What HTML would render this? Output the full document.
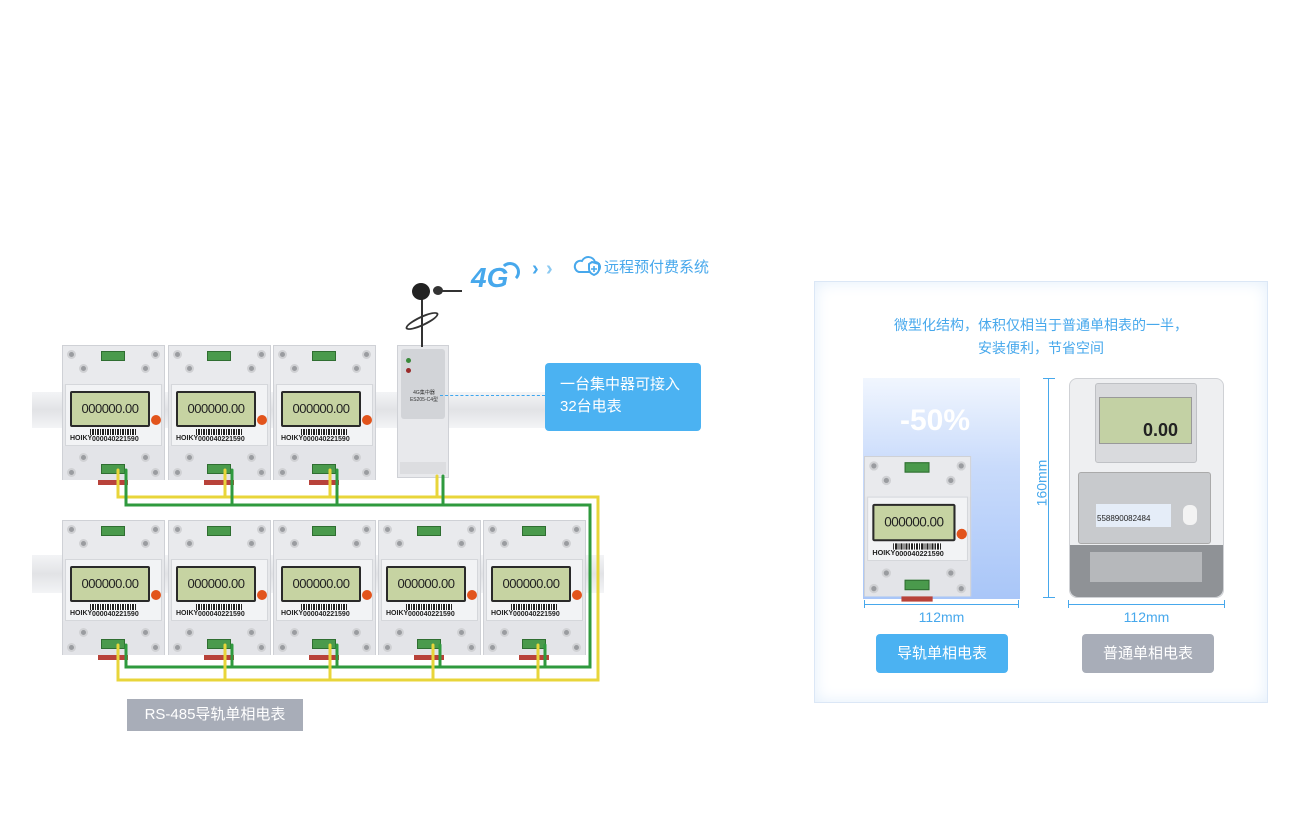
<!DOCTYPE html>
<html><head><meta charset="utf-8"><style>
*{margin:0;padding:0;box-sizing:border-box}
body{width:1300px;height:825px;background:#fff;position:relative;overflow:hidden;font-family:"Liberation Sans","Noto Sans CJK SC",sans-serif}
.a{position:absolute}
.m{position:absolute;width:103px;height:135px;background:#e6e7ea;border:1px solid #cfd1d6;transform-origin:0 0}
.m .top{position:absolute;left:0;top:0;width:101px;height:38px;background:#e9eaed}
.m .mid{position:absolute;left:2px;top:38px;width:97px;height:62px;background:#f2f3f5;border:1px solid #d5d7db}
.m .bot{position:absolute;left:0;top:100px;width:101px;height:34px;background:#e3e4e8}
.m .lcd{position:absolute;left:4px;top:6px;width:80px;height:36px;background:#c6d3a2;border:2px solid #2a2a2a;border-radius:2px;font:13px "Liberation Sans",sans-serif;color:#222;text-align:center;line-height:32px;letter-spacing:-0.5px}
.m .tb{position:absolute;width:24px;height:10px;background:#4a9a4c;border:1px solid #2f6e31}
.m .sc{position:absolute;width:9px;height:9px;border-radius:50%;background:#9a9ca0;border:2px solid #d0d1d4}
.m .bar{position:absolute;left:24px;top:44px;width:46px;height:6px;background:repeating-linear-gradient(90deg,#222 0 1px,#fff 1px 2px,#222 2px 4px,#fff 4px 5px)}
.m .num{position:absolute;left:26px;top:51px;font:bold 7px "Liberation Sans",sans-serif;color:#222}
.m .brand{position:absolute;left:4px;top:50px;font:bold 7px "Liberation Sans",sans-serif;color:#222}
.m .btn{position:absolute;left:85px;top:30px;width:10px;height:10px;border-radius:50%;background:#e2541c}
.m .red{position:absolute;left:35px;top:134px;width:30px;height:5px;background:#b8423a}
</style></head><body>

<div class="a" style="left:32px;top:392px;width:570px;height:36px;background:linear-gradient(#f3f4f6,#e2e3e6,#f3f4f6)"></div>
<div class="a" style="left:32px;top:555px;width:572px;height:38px;background:linear-gradient(#f3f4f6,#e2e3e6,#f3f4f6)"></div>

<div id="meters"></div>

<div class="a" style="left:397px;top:345px;width:52px;height:133px;background:#e8e9ec;border:1px solid #cfd1d6"></div>
<div class="a" style="left:401px;top:349px;width:44px;height:70px;background:#d2d4d8;border-radius:3px"></div>
<div class="a" style="left:406px;top:358px;width:5px;height:5px;border-radius:50%;background:#3a8a3a"></div>
<div class="a" style="left:406px;top:368px;width:5px;height:5px;border-radius:50%;background:#9a2a2a"></div>
<div class="a" style="left:407px;top:390px;font-size:5px;color:#333;width:34px;text-align:center;line-height:7px">4G集中器<br>ES205-C4型</div>
<div class="a" style="left:400px;top:462px;width:46px;height:12px;background:#dcdde0"></div>
<div class="a" style="left:421px;top:292px;width:2px;height:55px;background:#333"></div>
<div class="a" style="left:412px;top:283px;width:18px;height:17px;border-radius:50%;background:#222"></div>
<div class="a" style="left:433px;top:286px;width:10px;height:9px;border-radius:50%;background:#333"></div>
<div class="a" style="left:442px;top:290px;width:20px;height:2px;background:#333"></div>
<div class="a" style="left:404px;top:316px;width:36px;height:10px;border:2px solid #333;border-radius:50%;transform:rotate(-25deg)"></div>
<div class="a" style="left:471px;top:262px;font:italic bold 28px 'Liberation Sans',sans-serif;color:#47a8ec">4G</div>
<div class="a" style="left:500px;top:262px;width:20px;height:20px;border:3px solid #47a8ec;border-left-color:transparent;border-bottom-color:transparent;border-radius:50%"></div>
<div class="a" style="left:532px;top:258px;font:bold 20px 'Liberation Sans',sans-serif;color:#47a8ec">›</div>
<div class="a" style="left:546px;top:258px;font:bold 20px 'Liberation Sans',sans-serif;color:#8ccaf2">›</div>
<svg class="a" style="left:573px;top:254px" width="30" height="22"><path d="M6 18 H22 A5 5 0 0 0 22 8 A7 7 0 0 0 9 7 A5 5 0 0 0 6 18Z" fill="none" stroke="#47a8ec" stroke-width="2"/><path d="M19 8 L26 10 V15 Q26 19 21 21 Q16 19 16 15 V10Z" fill="#fff" stroke="#47a8ec" stroke-width="2"/><path d="M21 12V18M18 15H24" stroke="#47a8ec" stroke-width="1.6"/></svg>
<div class="a" style="left:604px;top:256px;font-size:15px;color:#47a8ec">远程预付费系统</div>

<div class="a" style="left:440px;top:395px;width:105px;border-top:1px dashed #3fa6ee"></div>
<div class="a" style="left:545px;top:363px;width:156px;height:68px;background:#4bb2f2;border-radius:4px;color:#fff;font-size:15px;line-height:22px;padding:11px 0 0 15px">一台集中器可接入<br>32台电表</div>

<svg class="a" style="left:0;top:0" width="620" height="700">
<g fill="none" stroke-width="3" stroke-linecap="round">
<path d="M118 470 V497 H598 V680 H118 V645" stroke="#e8d53a"/>
<path d="M126 470 V505 H590 V667 H126 V645" stroke="#2f9a3e"/>
<path d="M225 470 V497 M330 470 V497 M437 476 V497" stroke="#e8d53a"/>
<path d="M232 470 V505 M337 470 V505 M443 476 V505" stroke="#2f9a3e"/>
<path d="M225 645 V680 M330 645 V680 M433 645 V680 M538 645 V680" stroke="#e8d53a"/>
<path d="M232 645 V667 M337 645 V667 M440 645 V667 M545 645 V667" stroke="#2f9a3e"/>
</g></svg>

<div class="a" style="left:127px;top:699px;width:176px;height:32px;background:#a8adb8;color:#fff;font-size:15px;line-height:32px;text-align:center">RS-485导轨单相电表</div>

<div class="a" style="left:814px;top:281px;width:454px;height:422px;border:1px solid #dbe7f6;box-shadow:inset 0 0 16px #e2eefb;background:#fff"></div>
<div class="a" style="left:814px;top:314px;width:454px;text-align:center;color:#47a8ec;font-size:14px;line-height:23px">微型化结构，体积仅相当于普通单相表的一半，<br>安装便利，节省空间</div>
<div class="a" style="left:863px;top:378px;width:157px;height:221px;background:linear-gradient(180deg,#f1f6fe 0%,#c9dbfb 40%,#a9c6f8 100%)"></div>
<div class="a" style="left:900px;top:404px;font:bold 30px 'Liberation Sans',sans-serif;color:#fff">-50%</div>
<div id="m2"></div>
<div class="a" style="left:864px;top:600px;width:155px;height:8px;border:1px solid #47a8ec;border-top:none;border-bottom:none"></div>
<div class="a" style="left:864px;top:604px;width:155px;height:1px;background:#47a8ec"></div>
<div class="a" style="left:864px;top:609px;width:155px;text-align:center;color:#47a8ec;font-size:14px">112mm</div>
<div class="a" style="left:1043px;top:378px;width:12px;height:220px;border:1px solid #47a8ec;border-left:none;border-right:none"></div>
<div class="a" style="left:1048px;top:378px;width:1px;height:220px;background:#47a8ec"></div>
<div class="a" style="left:1018px;top:475px;color:#47a8ec;font-size:14px;transform:rotate(-90deg);transform-origin:center">160mm</div>
<div class="a" style="left:1068px;top:600px;width:157px;height:8px;border:1px solid #47a8ec;border-top:none;border-bottom:none"></div>
<div class="a" style="left:1068px;top:604px;width:157px;height:1px;background:#47a8ec"></div>
<div class="a" style="left:1068px;top:609px;width:157px;text-align:center;color:#47a8ec;font-size:14px">112mm</div>
<div class="a" style="left:1069px;top:378px;width:155px;height:220px;background:#eeeff1;border:1px solid #cfd1d5;border-radius:8px"></div>
<div class="a" style="left:1095px;top:383px;width:102px;height:80px;background:#d9dadd;border:1px solid #bfc1c5;border-radius:3px"></div>
<div class="a" style="left:1099px;top:397px;width:93px;height:47px;background:#c3d1a4;border:1px solid #999"></div>
<div class="a" style="left:1143px;top:420px;font:bold 18px 'Liberation Sans',sans-serif;color:#222">0.00</div>
<div class="a" style="left:1078px;top:472px;width:133px;height:72px;background:#c8cacd;border:1px solid #aaa;border-radius:3px"></div>
<div class="a" style="left:1096px;top:504px;width:75px;height:23px;background:#e5edf8"></div>
<div class="a" style="left:1097px;top:514px;font-size:8px;color:#222">558890082484</div>
<div class="a" style="left:1183px;top:505px;width:14px;height:20px;border-radius:6px;background:#f3f3f3"></div>
<div class="a" style="left:1070px;top:545px;width:153px;height:52px;background:#8f9296;border-radius:0 0 8px 8px"></div>
<div class="a" style="left:1090px;top:552px;width:112px;height:30px;background:#b6b8bb"></div>

<div class="a" style="left:876px;top:634px;width:132px;height:39px;background:#4bb2f2;border-radius:4px;color:#fff;font-size:15px;line-height:39px;text-align:center">导轨单相电表</div>
<div class="a" style="left:1082px;top:634px;width:132px;height:39px;background:#a8adb8;border-radius:4px;color:#fff;font-size:15px;line-height:39px;text-align:center">普通单相电表</div>

<script>
function meter(x,y,s){
 return '<div class="m" style="left:'+x+'px;top:'+y+'px;transform:scale('+s+')">'+
 '<div class="top"></div><div class="tb" style="left:38px;top:5px"></div>'+
 '<div class="sc" style="left:4px;top:4px"></div><div class="sc" style="left:88px;top:4px"></div>'+
 '<div class="sc" style="left:16px;top:18px"></div><div class="sc" style="left:78px;top:18px"></div>'+
 '<div class="mid"><div class="lcd">000000.00</div><div class="btn"></div><div class="bar"></div><div class="num">000040221590</div><div class="brand">HOIKY</div></div>'+
 '<div class="bot"></div><div class="tb" style="left:38px;top:118px"></div>'+
 '<div class="sc" style="left:4px;top:122px"></div><div class="sc" style="left:88px;top:122px"></div>'+
 '<div class="sc" style="left:16px;top:107px"></div><div class="sc" style="left:78px;top:107px"></div>'+
 '<div class="red"></div></div>';
}
var h='';
[62,168,273].forEach(function(x){h+=meter(x,345,1)});
[62,168,273,378,483].forEach(function(x){h+=meter(x,520,1)});
document.getElementById('meters').innerHTML=h;
document.getElementById('m2').innerHTML=meter(864,456,1.04);
</script>
</body></html>
